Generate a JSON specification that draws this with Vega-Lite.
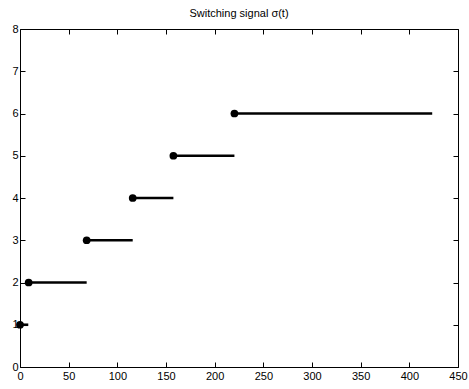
{
  "$schema": "https://vega.github.io/schema/vega-lite/v6.json",
  "width": 438,
  "height": 338,
  "autosize": {"type": "none"},
  "padding": {"left": 20, "top": 29, "right": 11, "bottom": 22},
  "background": "white",
  "title": {"text": "Switching signal σ(t)", "font": "Liberation Sans", "fontSize": 11, "fontWeight": "normal", "color": "black", "offset": 4},
  "config": {
    "view": {"stroke": "black", "strokeWidth": 1},
    "axis": {"grid": false, "domain": false, "ticks": true, "zindex": 1, "tickColor": "black", "tickWidth": 1, "tickOpacity": 1, "labelColor": "black", "labelFont": "Liberation Sans", "labelFontSize": 11, "tickSize": 5, "offset": -5, "title": null}
  },
  "data": {"values": [
    {"start": 0, "end": 8.5, "sigma": 1},
    {"start": 8.9, "end": 68.5, "sigma": 2},
    {"start": 68.5, "end": 115.8, "sigma": 3},
    {"start": 115.8, "end": 157.6, "sigma": 4},
    {"start": 157.6, "end": 220.3, "sigma": 5},
    {"start": 220.3, "end": 423.5, "sigma": 6}
  ]},
  "layer": [
    {
      "mark": {"type": "rule", "color": "black", "strokeWidth": 2.6},
      "encoding": {
        "x": {"field": "start", "type": "quantitative", "scale": {"domain": [0, 450], "nice": false}, "axis": {"values": [0,50,100,150,200,250,300,350,400,450], "ticks": true, "labelPadding": 3, "labelFlush": false}},
        "x2": {"field": "end"},
        "y": {"field": "sigma", "type": "quantitative", "scale": {"domain": [0, 8], "nice": false}, "axis": {"values": [0,1,2,3,4,5,6,7,8], "ticks": true, "labelPadding": 2}}
      }
    },
    {
      "mark": {"type": "point", "filled": true, "color": "black", "size": 60, "opacity": 1},
      "encoding": {
        "x": {"field": "start", "type": "quantitative", "scale": {"domain": [0, 450], "nice": false}, "axis": {"orient": "top", "values": [0,50,100,150,200,250,300,350,400,450], "ticks": true, "labels": false}},
        "y": {"field": "sigma", "type": "quantitative", "scale": {"domain": [0, 8], "nice": false}, "axis": {"orient": "right", "values": [0,1,2,3,4,5,6,7,8], "ticks": true, "labels": false}}
      }
    }
  ],
  "resolve": {"axis": {"x": "independent", "y": "independent"}}
}
